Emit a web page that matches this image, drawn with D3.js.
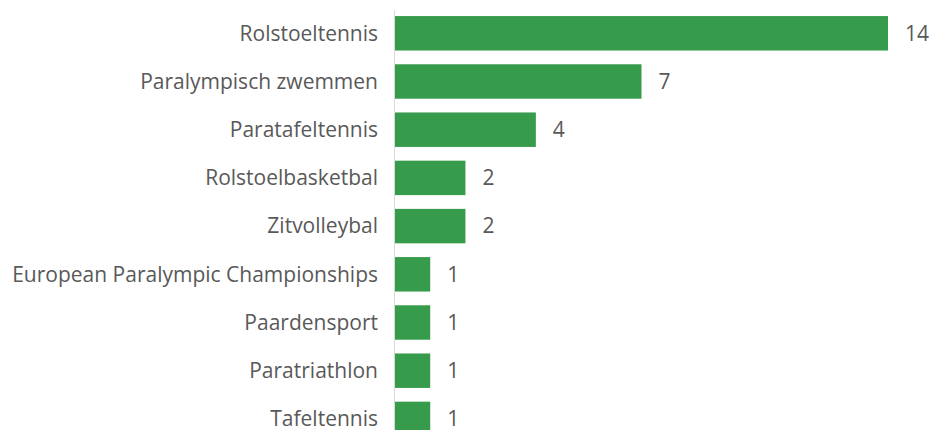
<!DOCTYPE html>
<html>
<head>
<meta charset="utf-8">
<script src="https://cdn.jsdelivr.net/npm/d3@7"></script>
<style>
  html, body { margin: 0; padding: 0; background: #fff; overflow: hidden; }
  svg { display: block; }
</style>
</head>
<body>
<svg id="chart" width="930" height="430"></svg>
<script>
const categories = ["Rolstoeltennis", "Paralympisch zwemmen", "Paratafeltennis", "Rolstoelbasketbal", "Zitvolleybal", "European Paralympic Championships", "Paardensport", "Paratriathlon", "Tafeltennis"];
const values = [14, 7, 4, 2, 2, 1, 1, 1, 1];

const svg = d3.select("#chart");
const fontFamily = "'Open Sans', sans-serif";
const fontSize = 21;
const textColor = "#595959";
const barColor = "#379b4c";

const x = d3.scaleLinear().domain([0, 14]).range([395, 888]);
const y = d3.scaleBand().domain(categories).range([9.2, 9.2 + 48.2 * categories.length]).paddingInner(0.285).paddingOuter(0.1425);

// axis line
svg.append("line")
  .attr("x1", 394.5).attr("x2", 394.5)
  .attr("y1", 10).attr("y2", 450)
  .attr("stroke", "#d9d9d9").attr("stroke-width", 1);

const data = categories.map((c, i) => ({ c, v: values[i] }));

svg.selectAll("rect.bar").data(data).enter().append("rect")
  .attr("class", "bar")
  .attr("x", x(0))
  .attr("y", d => y(d.c))
  .attr("width", d => x(d.v) - x(0))
  .attr("height", y.bandwidth())
  .attr("fill", barColor);

// category labels
svg.selectAll("text.cat").data(data).enter().append("text")
  .attr("class", "cat")
  .attr("x", 378)
  .attr("y", d => y(d.c) + y.bandwidth() / 2)
  .attr("dy", "0.35em")
  .attr("text-anchor", "end")
  .attr("font-family", fontFamily)
  .attr("font-size", fontSize)
  .attr("fill", textColor)
  .text(d => d.c);

// value labels
svg.selectAll("text.val").data(data).enter().append("text")
  .attr("class", "val")
  .attr("x", d => x(d.v) + 17)
  .attr("y", d => y(d.c) + y.bandwidth() / 2)
  .attr("dy", "0.35em")
  .attr("font-family", fontFamily)
  .attr("font-size", fontSize)
  .attr("fill", textColor)
  .text(d => d.v);
</script>
</body>
</html>
